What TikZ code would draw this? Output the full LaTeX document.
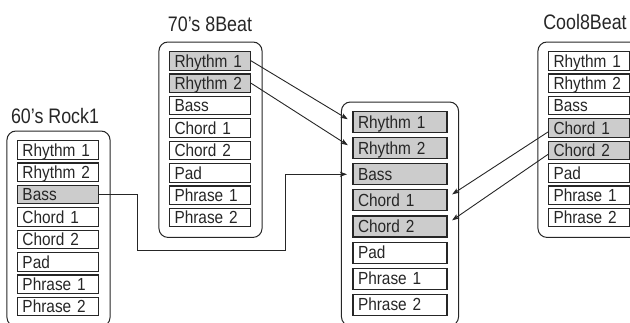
\documentclass[tikz,border=0pt]{standalone}
\usepackage{fontspec}
\setmainfont{Liberation Sans}
\newfontfamily\cellfont{Liberation Sans}[FakeStretch=0.88]
\newfontfamily\titlefont{Liberation Sans}[FakeStretch=0.85]
\usepackage{tikz}
\usetikzlibrary{positioning,arrows.meta}
\usepackage{xcolor}
\definecolor{LineDark}{HTML}{262626}
\definecolor{CellGray}{HTML}{CCCCCC}

\begin{document}
\begin{tikzpicture}[x=1pt, y=-1pt,
				cell/.style={draw=LineDark, line width=1.1pt, fill=white,
					text width=71pt, inner xsep=5pt, inner ysep=0pt,
					minimum height=18.5pt, text height=12.4pt, text depth=0pt,
					align=left, text=LineDark,
					font=\cellfont\fontsize{17.5pt}{19pt}\selectfont},
				bigcell/.style={cell, text width=84pt, minimum height=21pt},
				picked/.style={fill=CellGray},
				title/.style={inner sep=3pt, text=LineDark,
					font=\titlefont\fontsize{21pt}{24pt}\selectfont},
				group/.style={draw=LineDark, line width=1pt, rounded corners=9pt},
				link/.style={-{Stealth[length=7pt, width=5pt, inset=1.5pt]}, LineDark,
					line width=0.9pt, shorten >=5.5pt}
				]
				\useasboundingbox (0,0) rectangle (630,322);

				% 60's Rock1
				\node[cell, anchor=north] (r60a) at (58,140) {Rhythm 1};
				\node[cell, below=2.8pt of r60a] (r60b) {Rhythm 2};
				\node[cell, picked, below=2.8pt of r60b] (r60c) {Bass};
				\node[cell, below=2.8pt of r60c] (r60d) {Chord 1};
				\node[cell, below=2.8pt of r60d] (r60e) {Chord 2};
				\node[cell, below=2.8pt of r60e] (r60f) {Pad};
				\node[cell, below=2.8pt of r60f] (r60g) {Phrase 1};
				\node[cell, below=2.8pt of r60g] (r60h) {Phrase 2};
				\draw[group] ([shift={(-10pt,9pt)}]r60a.north west) rectangle ([shift={(11pt,-10pt)}]r60h.south east);
				\node[title, above=13pt of r60a, xshift=-3pt] (t60) {60’s Rock1};

				% 70's 8Beat
				\node[cell, picked, anchor=north] (b70a) at (210,51) {Rhythm 1};
				\node[cell, picked, below=2.8pt of b70a] (b70b) {Rhythm 2};
				\node[cell, below=2.8pt of b70b] (b70c) {Bass};
				\node[cell, below=2.8pt of b70c] (b70d) {Chord 1};
				\node[cell, below=2.8pt of b70d] (b70e) {Chord 2};
				\node[cell, below=2.8pt of b70e] (b70f) {Pad};
				\node[cell, below=2.8pt of b70f] (b70g) {Phrase 1};
				\node[cell, below=2.8pt of b70g] (b70h) {Phrase 2};
				\draw[group] ([shift={(-10pt,9pt)}]b70a.north west) rectangle ([shift={(11pt,-10pt)}]b70h.south east);
				\node[title, above=16pt of b70a] (t70) {70’s 8Beat};

				% Cool8Beat
				\node[cell, anchor=north] (coola) at (589,51) {Rhythm 1};
				\node[cell, below=2.8pt of coola] (coolb) {Rhythm 2};
				\node[cell, below=2.8pt of coolb] (coolc) {Bass};
				\node[cell, picked, below=2.8pt of coolc] (coold) {Chord 1};
				\node[cell, picked, below=2.8pt of coold] (coole) {Chord 2};
				\node[cell, below=2.8pt of coole] (coolf) {Pad};
				\node[cell, below=2.8pt of coolf] (coolg) {Phrase 1};
				\node[cell, below=2.8pt of coolg] (coolh) {Phrase 2};
				\draw[group] ([shift={(-10pt,9pt)}]coola.north west) rectangle ([shift={(11pt,-10pt)}]coolh.south east);
				\node[title, above=18pt of coola, xshift=-4pt] (tcool) {Cool8Beat};

				% new style
				\node[bigcell, picked, anchor=north] (mixa) at (400,111) {Rhythm 1};
				\node[bigcell, picked, below=4pt of mixa] (mixb) {Rhythm 2};
				\node[bigcell, picked, below=4pt of mixb] (mixc) {Bass};
				\node[bigcell, picked, below=4pt of mixc] (mixd) {Chord 1};
				\node[bigcell, picked, below=4pt of mixd] (mixe) {Chord 2};
				\node[bigcell, below=4pt of mixe] (mixf) {Pad};
				\node[bigcell, below=4pt of mixf] (mixg) {Phrase 1};
				\node[bigcell, below=4pt of mixg] (mixh) {Phrase 2};
				\draw[group] ([shift={(-11pt,9pt)}]mixa.north west) rectangle ([shift={(11pt,-10pt)}]mixh.south east);

				% connectors
				\coordinate (bendA) at (137,250);
				\coordinate (bendB) at (285,250);
				\draw[link] (b70a.east) -- (mixa.west);
				\draw[link] (b70b.east) -- (mixb.west);
				\draw[link] (r60c.east) -| (bendA) -- (bendB) |- (mixc.west);
				\draw[link] ([yshift=-4pt]coold.west) -- ([yshift=3pt]mixd.east);
				\draw[link] ([yshift=-4pt]coole.west) -- ([yshift=3pt]mixe.east);
			\end{tikzpicture}
\end{document}
